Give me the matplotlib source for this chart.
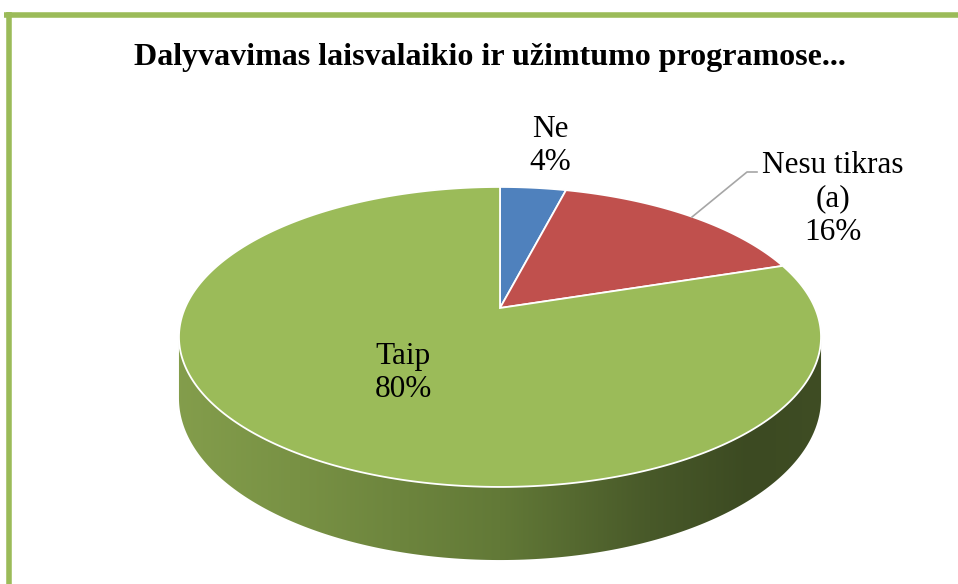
import numpy as np
import matplotlib.pyplot as plt
from matplotlib.patches import Polygon

# Chart data
labels = ['Ne', 'Nesu tikras\n(a)', 'Taip']
shares = [4, 16, 80]
colors = ['#4F81BD', '#C0504D', '#9BBB59']
title = 'Dalyvavimas laisvalaikio ir užimtumo programose...'

# 3D pie geometry (pixels), simple perspective projection
cx, cy = 500, 308      # apex of slices
A, B = 315, 144.4      # radii
k = 0.193              # perspective strength
depth = 59


def project(theta, drop=0.0):
    u, v = np.sin(theta), np.cos(theta)
    w = 1 + k * v
    return cx + A * u / w, cy - B * v / w + drop / w


fig = plt.figure(figsize=(9.58, 5.84), dpi=100)
ax = fig.add_axes([0, 0, 1, 1])

# frame lines
ax.plot([4, 958], [14.5, 14.5], color='#9BBB59', lw=4, solid_capstyle='butt')
ax.plot([9.5, 9.5], [12, 584], color='#9BBB59', lw=4, solid_capstyle='butt')

# side wall (front part of the pie, belongs to the last slice)
t1 = np.pi - np.arccos(k)
t2 = np.pi + np.arccos(k)
ts = np.linspace(t1, t2, 200)
tx, ty = project(ts)
bx, by = project(ts[::-1], depth)
side = Polygon(np.column_stack([np.r_[tx, bx], np.r_[ty, by]]), closed=True,
               facecolor='none', edgecolor='none')
ax.add_patch(side)
gx = np.linspace(170, 830, 400)
stops_x = [170, 300, 500, 650, 750, 830]
stops_c = np.array([[132, 158, 76], [120, 145, 68], [98, 121, 55],
                    [72, 89, 41], [60, 74, 34], [63, 77, 36]]) / 255
grad = np.stack([np.interp(gx, stops_x, stops_c[:, i]) for i in range(3)], axis=-1)
img = ax.imshow(grad[None, :, :], extent=[170, 830, 580, 250], aspect='auto',
                zorder=1)
img.set_clip_path(side)

# top slices
start = 0.0
total = sum(shares)
for val, col in zip(shares, colors):
    a0 = 2 * np.pi * start / total
    a1 = 2 * np.pi * (start + val) / total
    th = np.linspace(a0, a1, max(int(val * 4), 10))
    px, py = project(th)
    ax.fill(np.r_[cx, px], np.r_[cy, py], facecolor=col, edgecolor='white',
            lw=1.3, zorder=2)
    start += val

# labels
font = dict(family='Liberation Serif', fontsize=22.5, color='black',
            ha='center', va='center', linespacing=1.22)
ax.text(550, 146, f'{labels[0]}\n{shares[0]}%', **font, zorder=3)
ax.text(833, 199, f'{labels[1]}\n{shares[1]}%', **font, zorder=3)
ax.text(403, 373, f'{labels[2]}\n{shares[2]}%', **font, zorder=3)

# leader line for the middle label
ax.plot([692, 747, 757], [217, 172, 172], color='#A6A6A6', lw=1.2, zorder=3)

ax.text(490, 57, title, family='Liberation Serif', fontsize=23,
        fontweight='bold', ha='center', va='center')

ax.set_xlim(0, 958)
ax.set_ylim(584, 0)
ax.axis('off')

fig.savefig('out.png', dpi=100)
